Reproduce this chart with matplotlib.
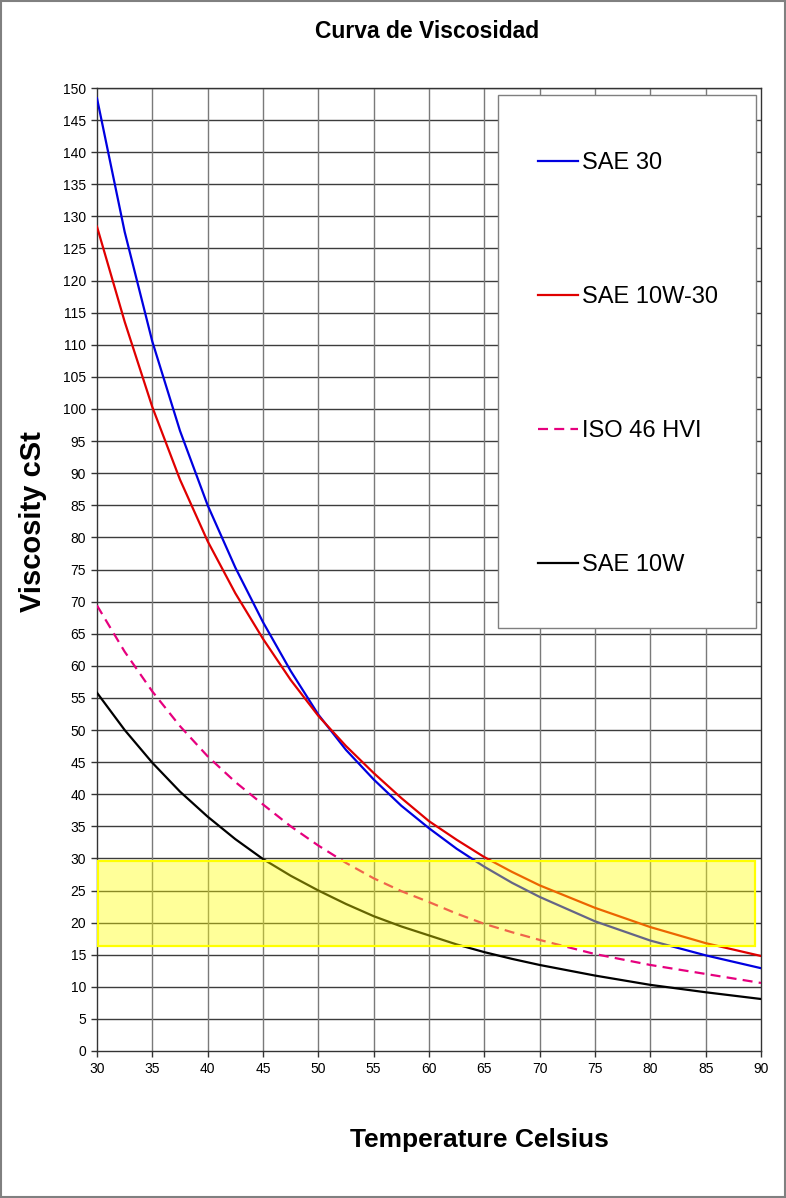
#program to plot a viscosity curve chart

'''
This program plots viscosity against temperature for four oils.
'''

########################################################################
### modules ###
########################################################################

import matplotlib
matplotlib.use('Agg')
import matplotlib.pyplot as plt
from matplotlib.patches import Rectangle

########################################################################
### data ###
########################################################################

#temperature in celsius
temp      = [30, 32.5, 35, 37.5, 40, 42.5, 45, 47.5, 50, 52.5, 55, 57.5,
             60, 62.5, 65, 67.5, 70, 75, 80, 85, 90]

#viscosity in cSt
sae30     = [148.4, 127.6, 110.5, 96.6, 85.0, 75.3, 66.8, 59.2, 52.4,
             46.9, 42.3, 38.2, 34.7, 31.5, 28.7, 26.2, 24.0,
             20.2, 17.2, 14.9, 12.9]
sae10w30  = [128.4, 113.6, 100.3, 89.0, 79.4, 71.3, 64.2, 57.8, 52.2,
             47.5, 43.3, 39.4, 35.8, 32.9, 30.2, 27.9, 25.8,
             22.3, 19.3, 16.8, 14.8]
iso46hvi  = [69.4, 62.2, 56.0, 50.6, 45.9, 41.9, 38.4, 35.0, 32.0,
             29.3, 26.9, 24.9, 23.2, 21.4, 19.8, 18.5, 17.3,
             15.1, 13.4, 12.0, 10.6]
sae10w    = [55.8, 50.0, 44.9, 40.4, 36.5, 33.0, 29.9, 27.3, 25.0,
             22.9, 21.0, 19.4, 18.0, 16.6, 15.4, 14.35, 13.4,
             11.75, 10.3, 9.15, 8.1]

labels    = ['SAE 30', 'SAE 10W-30', 'ISO 46 HVI', 'SAE 10W']

#recommended band (temperature from/to, viscosity from/to)
band_t    = [30.1, 89.5]
band_v    = [16.4, 29.6]

title     = 'Curva de Viscosidad'
xlabel    = 'Temperature Celsius'
ylabel    = 'Viscosity cSt'

########################################################################
### plot ###
########################################################################

plt.rcParams['font.family'] = ['Liberation Sans', 'DejaVu Sans']

W, H = 786, 1198
fig = plt.figure(figsize=(W/100, H/100), dpi=100)
ax = fig.add_axes([97/W, 1-1051/H, 664/W, 963/H])

l1, = ax.plot(temp, sae30, color='#0000E0', lw=1.6, zorder=3)
l2, = ax.plot(temp, sae10w30, color='#E00000', lw=1.6, zorder=3)
l3, = ax.plot(temp, iso46hvi, color='#E6007E', lw=1.6, zorder=3,
              dashes=(4.5, 2.8))
l4, = ax.plot(temp, sae10w, color='black', lw=1.6, zorder=3)

#yellow band on top of the curves
ax.add_patch(Rectangle((band_t[0], band_v[0]), band_t[1]-band_t[0],
                       band_v[1]-band_v[0], facecolor=(1, 1, 0, 0.4),
                       edgecolor='#FFFF00', lw=1.6, zorder=4))

ax.set_xlim(30, 90)
ax.set_ylim(0, 150)
ax.set_xticks(range(30, 91, 5))
ax.set_yticks(range(0, 151, 5))
ax.tick_params(labelsize=10, length=4, width=1, color='#333333',
               pad=4)

#grid
for v in range(5, 151, 5):
    ax.axhline(v, color='#3c3c3c', lw=1.0, zorder=1)
for t in range(35, 90, 5):
    ax.axvline(t, color='#7a7a7a', lw=1.0, zorder=1)
for s in ax.spines.values():
    s.set_color('#333333')
    s.set_linewidth(1.0)

#legend box
ax.add_patch(Rectangle((498/W, 1-628/H), 258/W, 533/H,
                       transform=fig.transFigure, facecolor='white',
                       edgecolor='#7f7f7f', lw=1.0, zorder=5))
leg = ax.legend([l1, l2, l3, l4], labels, loc='upper left',
                bbox_to_anchor=(538/W, 1-152/H),
                bbox_transform=fig.transFigure,
                frameon=False, fontsize=17, handlelength=1.7,
                handletextpad=0.15, labelspacing=4.75, borderpad=0,
                borderaxespad=0)
leg.set_zorder(6)

fig.text(427/W, 1-31/H, title, ha='center', va='center',
         fontsize=16.5, fontweight='bold')
fig.text(479/W, 1-1140/H, xlabel, ha='center', va='center',
         fontsize=19, fontweight='bold')
fig.text(33/W, 1-522/H, ylabel, ha='center', va='center',
         fontsize=21, fontweight='bold', rotation=90)

#figure border
fig.patches.append(Rectangle((0.001, 0.001), 0.998, 0.998,
                             transform=fig.transFigure, fill=False,
                             edgecolor='#808080', lw=1.5))

plt.savefig('out.png', dpi=100)
